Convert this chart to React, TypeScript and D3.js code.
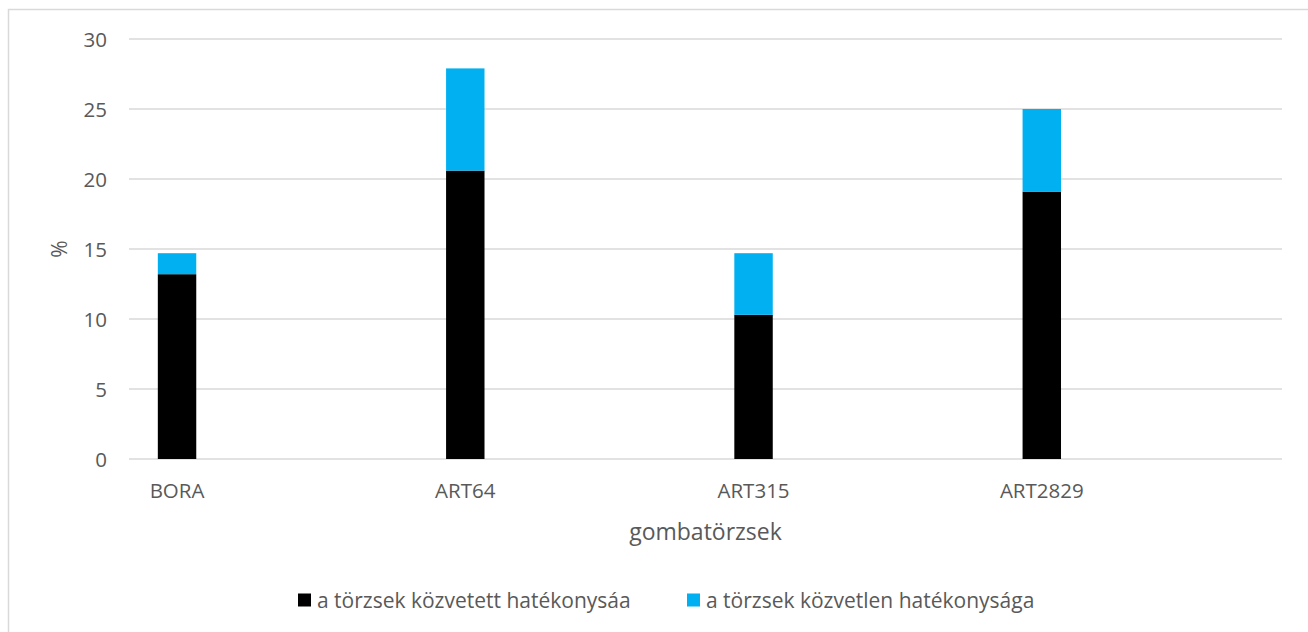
import React from "react";
import * as d3 from "d3";

const categories = ["BORA", "ART64", "ART315", "ART2829"];
const indirectValues = [13.2, 20.6, 10.3, 19.1];
const directValues = [1.5, 7.3, 4.4, 5.9];
const yTicks = [0, 5, 10, 15, 20, 25, 30];
const seriesNames = [
  "a törzsek közvetett hatékonysáa",
  "a törzsek közvetlen hatékonysága",
];
const seriesColors = ["#000000", "#00b0f0"];

const App: React.FC = () => {
  const width = 1308;
  const height = 632;
  const margin = { top: 39, right: 26, bottom: 173, left: 129 };
  const font = "'Open Sans', sans-serif";
  const textColor = "#595959";

  const x = d3
    .scaleBand<string>()
    .domain(categories)
    .range([margin.left, width - margin.right]);

  // six slots per category, only the first holds the stacked column
  const slot = d3
    .scaleBand<number>()
    .domain(d3.range(6))
    .range([0, x.bandwidth()])
    .paddingInner(0)
    .paddingOuter(0.75);

  const y = d3
    .scaleLinear()
    .domain([0, 30])
    .range([height - margin.bottom, margin.top]);

  const rows = categories.map((c, i) => ({
    cat: c,
    indirect: indirectValues[i],
    direct: directValues[i],
  }));
  const stack = d3.stack<any>().keys(["indirect", "direct"])(rows);

  const barX = (c: string) => (x(c) ?? 0) + (slot(0) ?? 0);
  const barW = slot.bandwidth();

  return (
    <svg
      width={width}
      height={height}
      style={{ position: "absolute", left: 0, top: 0, background: "#fff" }}
    >
      <rect x={0} y={0} width={width} height={height} fill="#fff" />
      <path
        d={`M8.5,${height} V9.5 H${width}`}
        fill="none"
        stroke="#d9d9d9"
        strokeWidth={1.5}
      />

      {yTicks.map((t) => (
        <g key={t}>
          <line
            x1={margin.left}
            x2={width - margin.right}
            y1={y(t)}
            y2={y(t)}
            stroke="#d9d9d9"
            strokeWidth={1.3}
          />
          <text
            x={107}
            y={y(t)}
            textAnchor="end"
            dominantBaseline="central"
            fontFamily={font}
            fontSize={20.5}
            fill={textColor}
          >
            {t}
          </text>
        </g>
      ))}

      {stack.map((layer, si) =>
        layer.map((d) => (
          <rect
            key={`${si}-${d.data.cat}`}
            x={barX(d.data.cat)}
            y={y(d[1])}
            width={barW}
            height={y(d[0]) - y(d[1])}
            fill={seriesColors[si]}
          />
        ))
      )}

      {categories.map((c) => (
        <text
          key={c}
          x={barX(c) + barW / 2}
          y={490}
          textAnchor="middle"
          dominantBaseline="central"
          fontFamily={font}
          fontSize={20.5}
          fill={textColor}
        >
          {c}
        </text>
      ))}

      <text
        x={(margin.left + width - margin.right) / 2}
        y={531}
        textAnchor="middle"
        dominantBaseline="central"
        fontFamily={font}
        fontSize={23}
        fill={textColor}
      >
        gombatörzsek
      </text>

      <text
        transform={`translate(59,${(y(0) + y(30)) / 2}) rotate(-90)`}
        textAnchor="middle"
        dominantBaseline="central"
        fontFamily={font}
        fontSize={21}
        fill={textColor}
      >
        %
      </text>

      {seriesNames.map((name, i) => {
        const lx = [298, 687][i];
        return (
          <g key={name} transform={`translate(${lx},600)`}>
            <rect x={0} y={-6.5} width={13} height={13} fill={seriesColors[i]} />
            <text
              x={19}
              y={0}
              dominantBaseline="central"
              fontFamily={font}
              fontSize={21}
              fill={textColor}
            >
              {name}
            </text>
          </g>
        );
      })}
    </svg>
  );
};

export default App;
